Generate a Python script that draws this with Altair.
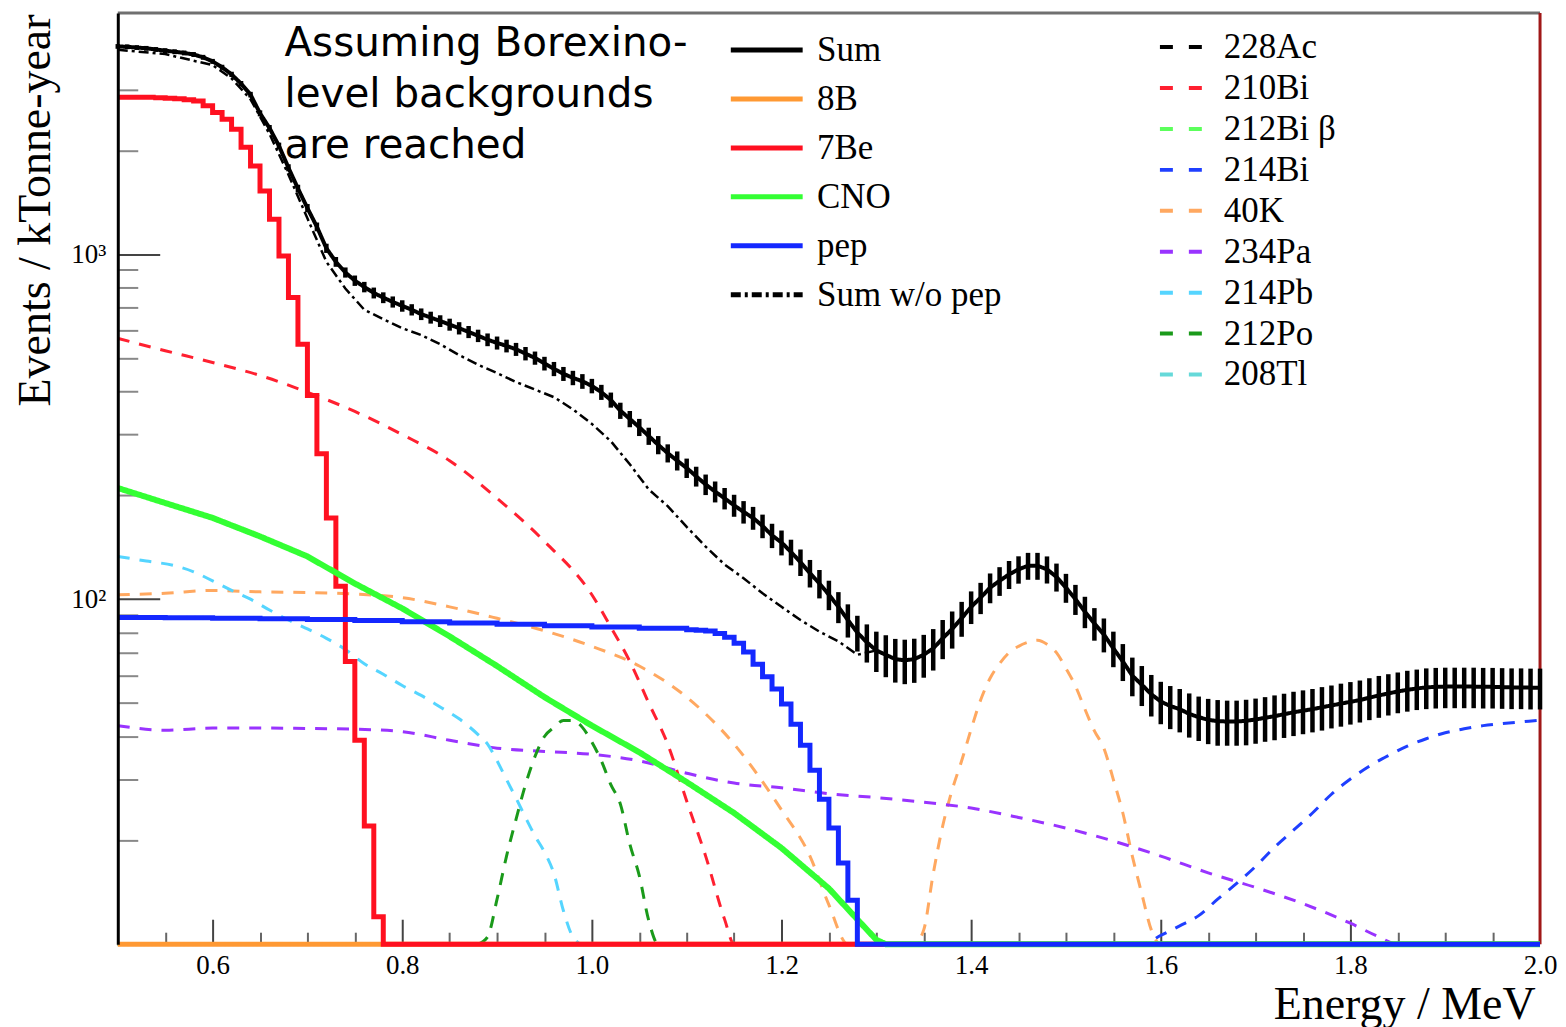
import altair as alt
import pandas as pd

W, H = 1425, 933

# ---------------- Sum (0.01 MeV bins) ----------------
E_SUM = [round(0.50 + 0.01 * i, 2) for i in range(151)]
SUM = [4000, 3990, 3970, 3950, 3920, 3890, 3860, 3830, 3790, 3720,
       3620, 3480, 3320, 3120, 2900, 2560, 2320, 2060, 1780, 1550,
       1360, 1200, 1040, 950, 885, 838, 803, 772, 748, 727,
       708, 690, 670, 655, 640, 625, 610, 595, 580, 565,
       553, 542, 530, 515, 500, 482, 465, 450, 438, 428,
       415, 398, 378, 352, 333, 315, 297, 280, 265, 252,
       240, 227, 215, 205, 196, 187, 179, 172, 163, 153,
       146, 137, 128, 119, 111, 103, 95, 87, 80, 75,
       71, 69, 67, 66.5, 67, 69, 72, 77, 82, 88,
       95, 101, 108, 113, 118, 122, 125, 125, 122, 116,
       108, 100, 92, 85, 79, 72, 66, 60, 56.5, 53,
       50.5, 49, 48, 46.5, 45.5, 44.7, 44.3, 44.2, 44.2, 44.4,
       44.8, 45.3, 45.8, 46.4, 47, 47.5, 48, 48.6, 49.2, 49.8,
       50.4, 51, 51.8, 52.6, 53.3, 54, 54.6, 55.1, 55.5, 55.7,
       55.8, 55.8, 55.8, 55.8, 55.7, 55.7, 55.6, 55.5, 55.5, 55.4, 55.4]
SUM_ERR = [63, 63, 63, 63, 63, 62, 62, 62, 62, 61,
           60, 59, 58, 56, 54, 51, 48, 45, 42, 39,
           37, 35, 32, 31, 30, 29, 28, 28, 27, 27,
           27, 26, 26, 26, 25, 25, 25, 24, 24, 24,
           24, 23, 23, 23, 22, 22, 22, 21, 21, 21,
           20, 20, 19, 19, 18, 18, 17, 17, 16, 16,
           15.5, 15, 14.7, 14.3, 14, 13.7, 13.4, 13.1, 12.8, 12.4,
           12.1, 11.7, 11.3, 10.9, 10.5, 10.1, 9.8, 9.6, 9.5, 9.5,
           9.5, 9.6, 9.7, 9.8, 9.8, 9.8, 9.9, 10, 10.1, 10.2,
           10.3, 10.5, 10.7, 10.8, 11, 11.1, 11.2, 11.2, 11, 10.8,
           10.4, 10, 9.6, 9.2, 8.9, 8.5, 8.1, 7.7, 7.5, 7.3,
           7.1, 7, 6.9, 6.8, 6.7, 6.7, 6.7, 6.6, 6.6, 6.7,
           6.7, 6.7, 6.8, 6.8, 6.9, 6.9, 6.9, 7, 7, 7.1,
           7.1, 7.1, 7.2, 7.3, 7.3, 7.3, 7.4, 7.4, 7.5, 7.5,
           7.5, 7.5, 7.5, 7.5, 7.5, 7.5, 7.5, 7.5, 7.5, 7.5, 7.5]

# ---------------- Sum w/o pep ----------------
E_NOPEP = [0.50, 0.55, 0.60, 0.62, 0.64, 0.66, 0.68, 0.70, 0.72, 0.74, 0.76, 0.78,
           0.80, 0.82, 0.84, 0.86, 0.88, 0.90, 0.92, 0.94, 0.96, 0.98, 1.00, 1.02,
           1.04, 1.06, 1.08, 1.10, 1.12, 1.14, 1.16, 1.18, 1.20, 1.22, 1.24, 1.26,
           1.28, 1.30]
NOPEP = [3910, 3800, 3530, 3230, 2810, 2230, 1700, 1270, 950, 795, 690, 648,
         610, 583, 548, 510, 478, 452, 426, 405, 385, 355, 322, 287,
         246, 208, 186, 162, 142, 126, 115, 104, 95, 87, 80.5, 75.5,
         69, 71]

# ---------------- solid signal components ----------------
E_8B = [0.50, 2.00]
V_8B = [3, 3]

E_7BE = [0.50, 0.51, 0.52, 0.53, 0.54, 0.55, 0.56, 0.57, 0.58, 0.59,
         0.60, 0.61, 0.62, 0.63, 0.64, 0.65, 0.66, 0.67, 0.68, 0.69,
         0.70, 0.71, 0.72, 0.73, 0.74, 0.75, 0.76, 0.77, 0.78, 2.00]
V_7BE = [2850, 2850, 2850, 2850, 2840, 2830, 2820, 2800, 2780, 2690,
         2575, 2460, 2300, 2040, 1800, 1525, 1262, 988, 749, 548,
         389, 264, 172, 109, 66, 39, 22, 12, 1, 1]

E_CNO = [0.50, 0.55, 0.60, 0.65, 0.70, 0.75, 0.80, 0.85, 0.90, 0.95, 1.00,
         1.05, 1.10, 1.15, 1.20, 1.25, 1.28, 1.30, 1.31, 2.00]
V_CNO = [210, 190, 172, 152, 133, 111, 94, 78, 64, 52, 43,
         36, 29.5, 24, 19, 14.5, 11.8, 10.3, 1, 1]

E_PEP = [0.50, 0.55, 0.60, 0.65, 0.70, 0.75, 0.80, 0.85, 0.90, 0.95, 1.00, 1.05,
         1.10, 1.11, 1.12, 1.13, 1.14, 1.15, 1.16, 1.17, 1.18, 1.19, 1.20,
         1.21, 1.22, 1.23, 1.24, 1.25, 1.26, 1.27, 1.28, 2.00]
V_PEP = [88.5, 88.3, 88, 87.7, 87.3, 86.7, 86, 85.3, 84.6, 83.8, 83, 82.4,
         81.5, 81.3, 80.8, 79.5, 77.6, 74.5, 70.3, 64.8, 59.6, 54.9, 49.7,
         43.4, 37.7, 31.9, 26.3, 21.7, 17.2, 13.4, 1, 1]

# ---------------- dashed background components ----------------
E_228AC = [0.50, 1.00, 1.50, 2.00]
V_228AC = [8, 7, 6, 5]
E_210BI = [0.50, 0.55, 0.60, 0.65, 0.70, 0.75, 0.80, 0.85, 0.90, 0.95, 1.00,
           1.02, 1.04, 1.06, 1.08, 1.10, 1.12, 1.14, 1.15, 1.16]
V_210BI = [570, 525, 485, 445, 398, 350, 300, 252, 196, 147, 103,
           83, 66, 50, 38, 26, 18, 11.8, 9, 5]
E_212BI = [0.50, 1.00, 1.50, 2.00]
V_212BI = [9, 8, 7, 6]
E_214BI = [1.55, 1.58, 1.60, 1.62, 1.64, 1.66, 1.68, 1.70, 1.72, 1.74, 1.76,
           1.78, 1.80, 1.82, 1.84, 1.86, 1.88, 1.90, 1.92, 1.94, 1.96, 1.98, 2.00]
V_214BI = [4, 9.5, 10.6, 11.3, 12.1, 13.5, 15, 16.8, 19.1, 21.4, 24,
           27.2, 30.1, 32.8, 35.2, 37.5, 39.4, 41, 42.1, 43, 43.6, 44.1, 44.6]
E_40K = [0.50, 0.55, 0.60, 0.65, 0.70, 0.75, 0.80, 0.85, 0.90, 0.95, 1.00, 1.05,
         1.10, 1.15, 1.20, 1.23, 1.25, 1.27, 1.29, 1.33, 1.34, 1.35, 1.36, 1.37,
         1.38, 1.39, 1.40, 1.41, 1.42, 1.43, 1.44, 1.45, 1.46, 1.47, 1.48, 1.49,
         1.50, 1.51, 1.52, 1.53, 1.54, 1.55, 1.56, 1.57, 1.58, 1.59, 1.60, 1.62, 2.00]
V_40K = [103, 104, 106, 105, 104.5, 103.5, 101, 95, 88, 81, 73, 64,
         52, 38, 24.5, 18, 13, 10, 5, 5, 8, 11, 16, 22,
         28, 34, 42, 51, 59, 65, 70, 73, 75, 76, 74, 70,
         63, 56, 48, 41.5, 37, 30, 24, 18, 14, 11, 8, 4, 4]
E_234PA = [0.50, 0.55, 0.60, 0.65, 0.70, 0.75, 0.80, 0.85, 0.90, 0.95, 1.00, 1.05,
           1.10, 1.15, 1.20, 1.25, 1.30, 1.35, 1.40, 1.45, 1.50, 1.55, 1.60, 1.65,
           1.70, 1.75, 1.80, 1.83, 1.85, 1.87, 2.00]
V_234PA = [43, 41.7, 42.3, 42.3, 42.2, 42, 41.3, 39, 37, 36.2, 35.5, 34,
           31.3, 29.3, 28.4, 27.3, 26.6, 25.8, 24.8, 23.3, 21.7, 19.9, 18, 16.1,
           14.6, 13.1, 11.5, 10.5, 9.8, 8, 4]
E_214PB = [0.50, 0.53, 0.56, 0.58, 0.60, 0.62, 0.64, 0.66, 0.68, 0.70, 0.72, 0.74,
           0.76, 0.78, 0.80, 0.82, 0.84, 0.86, 0.88, 0.89, 0.90, 0.91, 0.92, 0.93,
           0.94, 0.95, 0.96, 0.97, 0.98, 0.99, 1.00]
V_214PB = [133, 129, 125, 120, 113, 106, 100, 93, 87, 82, 77, 71.5,
           65, 60.6, 56.2, 52.6, 48.7, 45, 40.5, 38, 34, 30, 26.5, 23.3,
           20.6, 18.5, 16, 12.5, 10.5, 7, 4]
E_212PO = [0.88, 0.89, 0.90, 0.91, 0.92, 0.93, 0.94, 0.95, 0.96, 0.97, 0.98, 0.99,
           1.00, 1.01, 1.02, 1.03, 1.04, 1.05, 1.06, 1.07, 1.08]
V_212PO = [5, 10.5, 13.5, 18, 23, 29, 35, 40, 42.5, 44.5, 44.5, 42.5,
           38.5, 34, 29, 25.5, 19.5, 15.8, 11.7, 7, 4]
E_208TL = [0.50, 1.00, 1.50, 2.00]
V_208TL = [6, 6, 5, 4]

SOLID_NAMES = ["Sum", "8B", "7Be", "CNO", "pep", "Sum w/o pep"]
SOLID_COLORS = ["#000000", "#ff9933", "#ff1020", "#33ff33", "#1428ff", "#000000"]
SOLID_DASH = [[1, 0], [1, 0], [1, 0], [1, 0], [1, 0], [10, 4, 3, 4]]

BG_NAMES = ["228Ac", "210Bi", "212Bi β", "214Bi", "40K", "234Pa", "214Pb", "212Po", "208Tl"]
BG_COLORS = ["#000000", "#ff2030", "#5cff5c", "#1f3fff", "#ffa860", "#9933ff",
             "#55d5ff", "#1a9a1a", "#66d9d9"]
BG_DATA = [(E_228AC, V_228AC), (E_210BI, V_210BI), (E_212BI, V_212BI), (E_214BI, V_214BI),
           (E_40K, V_40K), (E_234PA, V_234PA), (E_214PB, V_214PB), (E_212PO, V_212PO),
           (E_208TL, V_208TL)]

ANNOT = ["Assuming Borexino-", "level backgrounds", "are reached"]

X_MAJOR = [0.6, 0.8, 1.0, 1.2, 1.4, 1.6, 1.8, 2.0]
X_MINOR = [0.55, 0.65, 0.7, 0.75, 0.85, 0.9, 0.95, 1.05, 1.1, 1.15, 1.25, 1.3, 1.35,
           1.45, 1.5, 1.55, 1.65, 1.7, 1.75, 1.85, 1.9, 1.95]
Y_MAJOR = [100, 1000]
Y_MINOR = [20, 30, 40, 50, 60, 70, 80, 90, 200, 300, 400, 500, 600, 700, 800, 900,
           2000, 3000, 4000]

# ---------------- tables ----------------
def frame(e, v, **extra):
    d = pd.DataFrame({"E": e, "v": v})
    for k, val in extra.items():
        d[k] = val
    return d

sum_df = pd.DataFrame({"E": E_SUM, "v": SUM, "err": SUM_ERR, "series": "Sum"})
nopep_df = frame(E_NOPEP, NOPEP, series="Sum w/o pep")
b8_df = frame(E_8B, V_8B, series="8B")
be7_df = frame(E_7BE, V_7BE, series="7Be")
cno_df = frame(E_CNO, V_CNO, series="CNO")
pep_df = frame(E_PEP, V_PEP, series="pep")
bg_df = pd.concat([frame(e, v, bg=n) for n, (e, v) in zip(BG_NAMES, BG_DATA)],
                  ignore_index=True)
hframe_df = pd.DataFrame({"E1": [0.5, 0.5], "E2": [2.0, 2.0], "v": [5000, 10]})
vframe_df = pd.DataFrame({"E": [2.0], "v1": [10], "v2": [5000]})

# ---------------- scales / encodings ----------------
xs = alt.Scale(domain=[0.5, 2.0], nice=False, zero=False)
ys = alt.Scale(type="log", domain=[10, 5000], nice=False, clamp=True)
SERIF = "Liberation Serif"

leg_a = alt.Legend(title=None, orient="none", legendX=611.7, legendY=12.75,
                   symbolType="stroke", symbolSize=5184, symbolStrokeWidth=5,
                   clipHeight=48.9,
                   labelFont=SERIF, labelFontSize=35, labelColor="black",
                   labelOffset=11.9, labelLimit=400, rowPadding=0, padding=0,
                   direction="vertical")
leg_b = alt.Legend(title=None, orient="none", legendX=1042, legendY=13.7,
                   symbolType="stroke", symbolSize=1823, symbolStrokeWidth=4,
                   clipHeight=41,
                   symbolDash=[13, 16], labelFont=SERIF, labelFontSize=35,
                   labelColor="black", labelOffset=19.2, labelLimit=400,
                   rowPadding=0, padding=0, direction="vertical")

color_a = alt.Color("series:N", scale=alt.Scale(domain=SOLID_NAMES, range=SOLID_COLORS),
                    legend=leg_a)
dash_a = alt.StrokeDash("series:N", scale=alt.Scale(domain=SOLID_NAMES, range=SOLID_DASH),
                        legend=leg_a)


def X(axis=None, field="E"):
    return alt.X(f"{field}:Q", scale=xs, axis=axis)


def Y(axis=None, field="v"):
    return alt.Y(f"{field}:Q", scale=ys, axis=axis)


ax_x_labels = alt.Axis(orient="bottom", values=X_MAJOR, format=".1f", ticks=False,
                       domain=False, grid=False, labelFont=SERIF, labelFontSize=27,
                       labelColor="black", labelPadding=8, labelFlush=False,
                       labelOverlap=False, title="Energy / MeV", titleFont=SERIF,
                       titleFontSize=46, titleFontWeight="normal", titleColor="black",
                       titleX=1420, titleY=74, titleAlign="right",
                       titleBaseline="alphabetic")
ax_y_labels = alt.Axis(orient="left", values=Y_MAJOR,
                       labelExpr="datum.value == 100 ? '10\u00b2' : '10\u00b3'",
                       ticks=False, domain=True, domainColor="black", domainWidth=3,
                       grid=False, labelFont=SERIF, labelFontSize=27, labelColor="black",
                       labelPadding=12, title="Events / kTonne-year", titleFont=SERIF,
                       titleFontSize=46, titleFontWeight="normal", titleColor="black",
                       titleX=-68, titleY=1, titleAlign="right", titleAngle=270,
                       titleBaseline="alphabetic", zindex=1)
ax_x_major = alt.Axis(orient="top", offset=-H, values=X_MAJOR[:-1], labels=False,
                      domain=False, grid=False, tickSize=25, tickWidth=2,
                      tickColor="#444444", title=None)
ax_x_minor = alt.Axis(orient="top", offset=-H, values=X_MINOR, labels=False,
                      domain=False, grid=False, tickSize=12, tickWidth=2,
                      tickColor="#666666", title=None)
ax_y_major = alt.Axis(orient="right", offset=-W, values=Y_MAJOR, labels=False,
                      domain=False, grid=False, tickSize=42, tickWidth=2,
                      tickColor="#444444", title=None)
ax_y_minor = alt.Axis(orient="right", offset=-W, values=Y_MINOR, labels=False,
                      domain=False, grid=False, tickSize=20, tickWidth=2,
                      tickColor="#888888", title=None)

# ---------------- layers ----------------
hframe = alt.Chart(hframe_df).mark_rule(strokeWidth=3, color="#707070").encode(
    x=X(field="E1"), x2="E2:Q", y=Y())
vframe = alt.Chart(vframe_df).mark_rule(strokeWidth=3, color="#a01818").encode(
    x=X(), y=Y(field="v1"), y2="v2:Q")

dashed = alt.Chart(bg_df).mark_line(interpolate="monotone").encode(
    x=X(), y=Y(),
    stroke=alt.Stroke("bg:N", scale=alt.Scale(domain=BG_NAMES, range=BG_COLORS),
                      legend=leg_b),
    strokeDash=alt.value([12, 10]), strokeWidth=alt.value(3))

b8 = alt.Chart(b8_df).mark_line().encode(
    x=X(), y=Y(), color=color_a, strokeDash=dash_a, strokeWidth=alt.value(5))
be7 = alt.Chart(be7_df).mark_line(interpolate="step-after").encode(
    x=X(ax_x_major), y=Y(ax_y_major), color=color_a, strokeDash=dash_a,
    strokeWidth=alt.value(5))
cno = alt.Chart(cno_df).mark_line().encode(
    x=X(), y=Y(), color=color_a, strokeDash=dash_a, strokeWidth=alt.value(6))
pep = alt.Chart(pep_df).mark_line(interpolate="step-after").encode(
    x=X(ax_x_minor), y=Y(ax_y_minor), color=color_a, strokeDash=dash_a,
    strokeWidth=alt.value(5))
nopep = alt.Chart(nopep_df).mark_line().encode(
    x=X(), y=Y(), color=color_a, strokeDash=dash_a, strokeWidth=alt.value(2.5))
errbars = alt.Chart(sum_df).transform_calculate(
    lo="datum.v - datum.err", hi="datum.v + datum.err").mark_rule(
    color="black", strokeWidth=4.5).encode(x=X(), y=Y(field="lo"), y2="hi:Q")
sumline = alt.Chart(sum_df).mark_line().encode(
    x=X(ax_x_labels), y=Y(ax_y_labels), color=color_a, strokeDash=dash_a,
    strokeWidth=alt.value(4))

annot = alt.Chart(pd.DataFrame({"k": [0]})).mark_text(
    align="left", baseline="alphabetic", font="DejaVu Sans", fontSize=40.5,
    lineHeight=51, color="black").encode(
    x=alt.value(167), y=alt.value(43), text=alt.value(ANNOT))

chart = alt.layer(
    hframe, vframe, dashed, b8, be7, cno, pep, nopep, errbars, sumline, annot
).resolve_axis(x="independent", y="independent").properties(
    width=W, height=H,
    padding={"left": 110, "top": 4, "right": 18, "bottom": 88},
    autosize=alt.AutoSizeParams(type="none"),
).configure_view(stroke=None)

chart.save("out.html", embed_options={"renderer": "svg", "actions": False})
